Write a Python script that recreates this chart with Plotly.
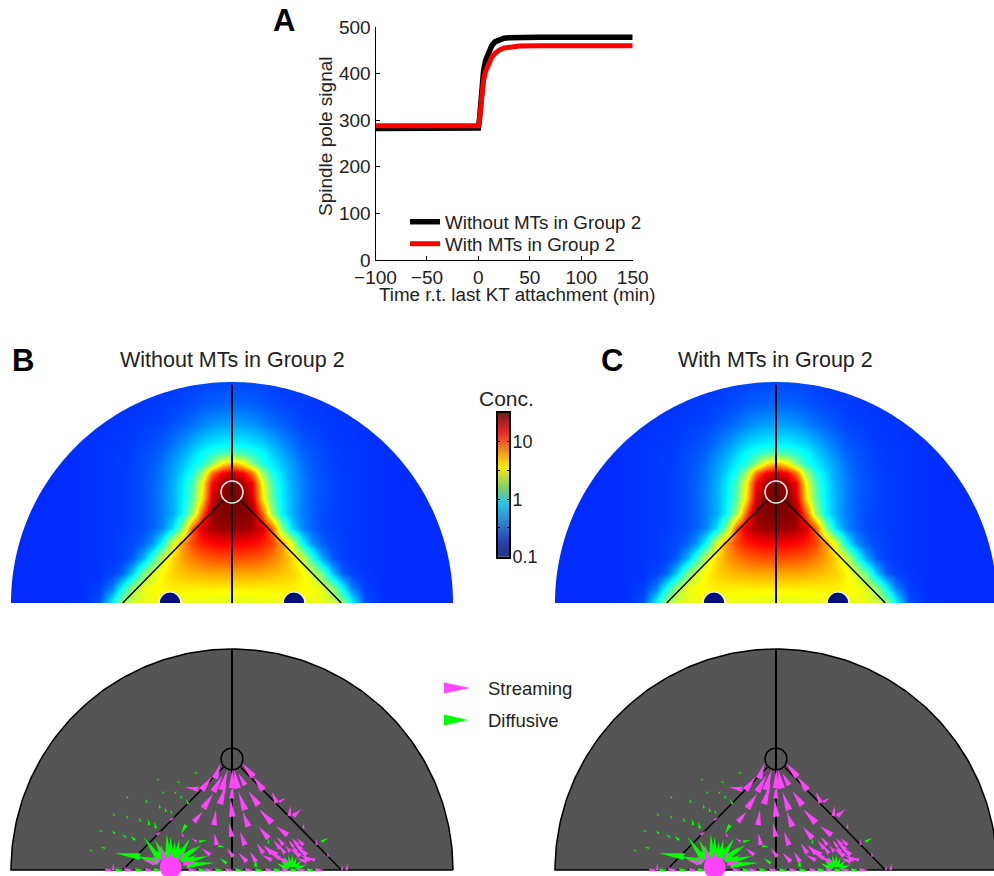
import numpy as np
import plotly.graph_objects as go

W, H = 994, 876
FONT = "Liberation Sans"
INK = "#222222"
MAGENTA = "#ff44ff"
GREEN = "#00ff00"

# Panel A
time_black = [-100, -1, 0, 1, 2, 3, 5, 7, 10, 13, 16, 20, 25, 30, 40, 60, 150]
signal_black = [282, 282, 283, 300, 335, 365, 405, 428, 447, 460, 468, 473, 476, 477, 478, 478, 478]
time_red = [-100, -1, 0, 1, 2, 3, 5, 7, 10, 13, 16, 20, 25, 30, 40, 60, 150]
signal_red = [288, 288, 288, 300, 325, 352, 385, 405, 423, 435, 443, 450, 455, 457, 459, 460, 460]
series_names = ["Without MTs in Group 2", "With MTs in Group 2"]
x_ticks = [-100, -50, 0, 50, 100, 150]
y_ticks = [0, 100, 200, 300, 400, 500]

# Panels B, C: log10 concentration, right half of the section (mirrored)
grid_x = [0, 30, 60, 90, 120, 150, 180, 210, 240, 270, 300, 330, 360, 400, 450, 500, 550, 600, 670]
grid_y = [0, 45, 90, 135, 180, 225, 270, 315, 360, 390, 420, 450, 480, 540, 600, 670]
log_conc = [
    [.48, .48, .5, .5, .5, .5, .5, .52, .52, .5, .45, .32, -.05, -.5, -.57, -.58, -.58, -.58, -.58],
    [.6, .6, .6, .6, .6, .6, .6, .58, .55, .5, .3, -.05, -.38, -.54, -.57, -.58, -.58, -.58, -.58],
    [.78, .78, .78, .76, .74, .71, .67, .58, .45, .18, -.2, -.45, -.53, -.56, -.57, -.58, -.58, -.58, -.58],
    [1.0, 1.0, .98, .95, .88, .79, .65, .45, .05, -.28, -.47, -.53, -.55, -.56, -.57, -.58, -.58, -.58, -.58],
    [1.2, 1.2, 1.18, 1.12, 1.02, .8, .45, -.05, -.33, -.46, -.51, -.53, -.55, -.56, -.57, -.58, -.58, -.58, -.58],
    [1.45, 1.44, 1.4, 1.28, .95, .25, -.15, -.35, -.45, -.5, -.52, -.54, -.55, -.56, -.57, -.58, -.58, -.58, -.58],
    [1.5, 1.5, 1.45, .95, .3, -.08, -.27, -.38, -.45, -.5, -.52, -.54, -.55, -.56, -.57, -.58, -.58, -.58, -.58],
    [1.5, 1.5, 1.3, .62, .15, -.1, -.26, -.37, -.45, -.49, -.52, -.54, -.55, -.56, -.57, -.58, -.58, -.58, -.58],
    [1.5, 1.42, 1.2, .55, .1, -.12, -.27, -.38, -.45, -.49, -.52, -.54, -.55, -.56, -.57, -.58, -.58, -.58, -.58],
    [1.3, 1.2, .92, .32, 0, -.16, -.29, -.39, -.46, -.5, -.52, -.54, -.55, -.56, -.57, -.58, -.58, -.58, -.58],
    [.72, .58, .25, 0, -.1, -.22, -.32, -.41, -.47, -.5, -.53, -.54, -.55, -.56, -.57, -.58, -.58, -.58, -.58],
    [.15, .1, .02, -.06, -.17, -.28, -.36, -.44, -.48, -.51, -.53, -.55, -.55, -.56, -.57, -.58, -.58, -.58, -.58],
    [-.1, -.1, -.13, -.18, -.26, -.34, -.41, -.47, -.5, -.52, -.54, -.55, -.56, -.56, -.57, -.58, -.58, -.58, -.58],
    [-.3, -.31, -.33, -.37, -.42, -.46, -.49, -.52, -.53, -.54, -.55, -.56, -.56, -.57, -.57, -.58, -.58, -.58, -.58],
    [-.44, -.45, -.46, -.48, -.5, -.52, -.53, -.54, -.55, -.56, -.56, -.57, -.57, -.57, -.57, -.58, -.58, -.58, -.58],
    [-.52, -.52, -.52, -.53, -.54, -.54, -.55, -.55, -.56, -.56, -.57, -.57, -.57, -.57, -.58, -.58, -.58, -.58, -.58],
]
colorbar_levels = [-1, -.75, -.5, -.25, 0, .25, .5, .75, 1, 1.25, 1.5]
colorbar_ticks = [-1, -.5, 0, .5, 1]
colorbar_labels = ["0.1", "", "1", "", "10"]

# Section geometry (model units)
section_radius = 663
pole_height = 333
pole_radius = 33
kinetochore_x = [-186, 186]
kinetochore_radius = 33
edge_foot_x = [-328, 328]

# Flux wedges: base_x, base_y, tip_x, tip_y
stream_base_x = [-51, -91, -56, -31, 0, 17, 39, 79, 64, 94, -86, -36, -1, 39, -114, -54, 1, 49, 119, 134, 142, 172, 184, -101, -186, -226, -1, -46, 39, 109, 166, -106, -146, 4, 44, 71, 94, -66, 214, 254, 289,
                 144, 184, 209, 224, 234, 249, 134, 119, 144, 159, 174, 194, 204, 154, 199, 214, 119, 164, 224,
                 -216, -184, -206, -156, -231, -146,
                 -380, -320, -260, -130, -80, -20, 40, 100, 150, 200, 250, -356, -321, 344, 329]
stream_base_y = [275, 240, 235, 240, 245, 245, 255, 195, 280, 240, 185, 198, 215, 180, 145, 135, 160, 130, 142, 202, 205, 162, 162, 242, 150, 105, 100, 75, 75, 95, 105, 85, 100, 40, 25, 25, 50, 45, 125, 75, 40,
                 65, 70, 60, 45, 30, 30, 45, 30, 35, 50, 55, 55, 42, 75, 75, 75, 50, 25, 25,
                 25, 35, 35, 35, 20, 20,
                 0, 0, 0, 0, 0, 0, 0, 0, 0, 0, 0, 0, 0, 0, 0]
stream_tip_x = [-34, -61, -28, -13, 1, 6, 19, 49, 31, 64, -56, -16, 1, 19, -88, -48, -4, 32, 82, 119, 161, 176, 209, -141, -171, -211, -9, -53, 24, 81, 132, -121, -151, -16, 19, 54, 74, -91, 216, 252, 286,
                124, 169, 184, 194, 204, 224, 99, 89, 114, 139, 159, 179, 174, 134, 179, 194, 94, 134, 194,
                -241, -184, -213, -144, -266, -106,
                -352, -292, -232, -102, -52, 8, 68, 128, 178, 228, 278, -356, -321, 347, 331]
stream_tip_y = [320, 280, 285, 302, 302, 302, 290, 238, 320, 280, 230, 260, 255, 235, 175, 180, 210, 175, 182, 235, 215, 192, 183, 248, 158, 117, 142, 110, 115, 130, 132, 95, 112, 65, 52, 55, 80, 65, 140, 92, 55,
                90, 90, 85, 70, 45, 35, 70, 45, 50, 75, 75, 75, 65, 100, 95, 95, 75, 40, 35,
                40, 58, 75, 58, 30, 22,
                0, 0, 0, 0, 0, 0, 0, 0, 0, 0, 0, 20, 14, 20, 14]
diff_base_x = [-191, -176, -161, -151, -141, -136, -216, -206, -198, -171, -276, -221, -16, -204, -184, -168, -156, -146,
               -256, -216, -198, -181, -274, -248, -228, -291, -318, -351, -391, -313, -353, -313, -206, -171, -151, -131, -158, -221, -106, -421, -381, -138, -98, -41, 71, 109, 164, 269,
               169, 172, 176, 180, 184, 189, 194, 166,
               -350, -290, -235, -100, -50, 10, 70, 125, 175, 225]
diff_base_y = [35, 35, 35, 35, 25, 15, 30, 35, 35, 35, 40, 25, 20, 35, 35, 35, 30, 25,
               202, 185, 175, 170, 145, 135, 125, 90, 98, 110, 115, 155, 163, 215, 230, 230, 215, 198, 262, 270, 290, 58, 65, 135, 85, 72, 10, 80, 102, 85,
               5, 8, 10, 10, 10, 8, 5, 3,
               0, 0, 0, 0, 0, 0, 0, 0, 0, 0]
diff_tip_x = [-196, -171, -126, -91, -71, -51, -266, -241, -221, -151, -351, -291, -36, -231, -184, -158, -111, -106,
              -258, -218, -201, -184, -278, -252, -234, -306, -331, -361, -398, -316, -358, -315, -208, -166, -156, -138, -164, -226, -114, -428, -394, -153, -76, -21, 71, 109, 164, 289,
              144, 156, 169, 181, 194, 209, 224, 134,
              -322, -262, -207, -72, -22, 38, 98, 153, 203, 253]
diff_tip_y = [108, 85, 95, 75, 42, 22, 100, 65, 75, 70, 50, 42, 35, 90, 100, 90, 70, 45,
              213, 198, 188, 180, 158, 153, 145, 102, 107, 117, 120, 165, 170, 223, 238, 238, 225, 213, 267, 274, 293, 60, 70, 108, 90, 68, 35, 95, 115, 95,
              35, 40, 45, 45, 40, 30, 15, 20,
              0, 0, 0, 0, 0, 0, 0, 0, 0, 0]
blob_x = [-184]
blob_y = [8]

JET = [[0, "#00007f"], [.125, "#0000ff"], [.375, "#00ffff"], [.625, "#ffff00"], [.875, "#ff0000"], [1, "#800000"]]
JET_SOFT = [[0, "#23307f"], [.125, "#2c49b8"], [.375, "#2cc5e8"], [.5, "#8fcf5a"], [.625, "#fbec10"], [.875, "#e3242b"], [1, "#7a1a1a"]]


def dx(a, b):
    return [a / W, b / W]


def dy(top, bottom):
    return [1 - bottom / H, 1 - top / H]


fig = go.Figure()


def add_heat(xa, ya):
    xs = [-v for v in grid_x[:0:-1]] + grid_x
    zs = [row[:0:-1] + row for row in log_conc]
    fig.add_trace(go.Heatmap(x=xs, y=grid_y, z=zs, zmin=-1, zmax=1.5, zsmooth="best", colorscale=JET,
                             showscale=False, hoverinfo="skip", xaxis=xa, yaxis=ya))


def add_skeleton(xa, ya, top):
    fig.add_trace(go.Scatter(x=[0, 0], y=[0, top], mode="lines", line=dict(color="black", width=2),
                             hoverinfo="skip", showlegend=False, xaxis=xa, yaxis=ya))
    for fx, sign in zip(edge_foot_x, [-1, 1]):
        fig.add_trace(go.Scatter(x=[fx, sign * 26], y=[0, pole_height - 25], mode="lines", line=dict(color="black", width=1.5),
                                 hoverinfo="skip", showlegend=False, xaxis=xa, yaxis=ya))


def wedges(bx, by, tx, ty, ratio=.4, min_w=6, max_w=20):
    px, py = [], []
    for a, b, c, d in zip(bx, by, tx, ty):
        vx, vy = c - a, d - b
        L = max(np.hypot(vx, vy), 1)
        w = min(max(L * ratio, min_w), max_w) / 2
        nx, ny = -vy / L * w, vx / L * w
        px += [a + nx, a - nx, c, a + nx, None]
        py += [b + ny, b - ny, d, b + ny, None]
    return px, py


def add_flux(xa, ya):
    t = np.linspace(0, np.pi, 181)
    cx = section_radius * np.cos(t)
    cy = section_radius * np.sin(t)
    fig.add_trace(go.Scatter(x=list(cx) + [cx[0]], y=list(cy) + [cy[0]], mode="lines", fill="toself", fillcolor="#555555",
                             line=dict(color="black", width=1.5), hoverinfo="skip", showlegend=False, xaxis=xa, yaxis=ya))
    add_skeleton(xa, ya, section_radius)
    pt = np.linspace(0, 2 * np.pi, 61)
    fig.add_trace(go.Scatter(x=pole_radius * np.cos(pt), y=pole_height + pole_radius * np.sin(pt), mode="lines",
                             line=dict(color="black", width=1.5), hoverinfo="skip", showlegend=False, xaxis=xa, yaxis=ya))
    gx, gy = wedges(diff_base_x, diff_base_y, diff_tip_x, diff_tip_y)
    fig.add_trace(go.Scatter(x=gx, y=gy, mode="lines", fill="toself", fillcolor=GREEN, line=dict(width=0, color=GREEN),
                             hoverinfo="skip", showlegend=False, xaxis=xa, yaxis=ya))
    mx, my = wedges(stream_base_x, stream_base_y, stream_tip_x, stream_tip_y)
    fig.add_trace(go.Scatter(x=mx, y=my, mode="lines", fill="toself", fillcolor=MAGENTA, line=dict(width=0, color=MAGENTA),
                             hoverinfo="skip", showlegend=False, xaxis=xa, yaxis=ya))
    fig.add_trace(go.Scatter(x=blob_x, y=blob_y, mode="markers", marker=dict(color=MAGENTA, size=22, line=dict(width=0)),
                             hoverinfo="skip", showlegend=False, xaxis=xa, yaxis=ya, cliponaxis=True))


# Panel A
fig.add_trace(go.Scatter(x=time_black, y=signal_black, mode="lines", name=series_names[0], line=dict(color="black", width=5.5),
                         xaxis="x", yaxis="y", hoverinfo="skip", legend="legend"))
fig.add_trace(go.Scatter(x=time_red, y=signal_red, mode="lines", name=series_names[1], line=dict(color="#ff0000", width=5),
                         xaxis="x", yaxis="y", hoverinfo="skip", legend="legend2"))
# Panels
add_heat("x2", "y2")
add_skeleton("x2", "y2", 655)
add_heat("x3", "y3")
add_skeleton("x3", "y3", 655)
add_flux("x4", "y4")
add_flux("x5", "y5")
fig.add_trace(go.Heatmap(x=[0, 1], y=colorbar_levels, z=[[v, v] for v in colorbar_levels], zmin=-1, zmax=1.5, zsmooth="best",
                         colorscale=JET_SOFT, showscale=False, hoverinfo="skip", xaxis="x6", yaxis="y6"))

hidden = dict(visible=False, fixedrange=True, showgrid=False, zeroline=False)
tick_font = dict(family=FONT, size=19, color=INK)
legend_common = dict(x=405 / W, xanchor="left", yanchor="middle", bgcolor="rgba(0,0,0,0)",
                     font=dict(family=FONT, size=18.8, color=INK), itemwidth=30)
# one panel unit is a third of a pixel
layout = dict(
    width=W, height=H, margin=dict(l=0, r=0, t=0, b=0, autoexpand=False), paper_bgcolor="white", plot_bgcolor="white",
    font=dict(family=FONT, color=INK),
    legend=dict(y=1 - 222 / H, **legend_common),
    legend2=dict(y=1 - 244 / H, **legend_common),
    xaxis=dict(domain=dx(375.5, 632.7), range=[-100, 150], tickvals=x_ticks, ticks="inside", ticklen=4, showline=True,
               linecolor="black", linewidth=1, tickcolor="black", showgrid=False, zeroline=False, tickfont=tick_font, fixedrange=True,
               anchor="y"),
    yaxis=dict(domain=dy(27, 260), range=[0, 500], tickvals=y_ticks, ticks="inside", ticklen=4, showline=True, linecolor="black",
               linewidth=1, tickcolor="black", showgrid=False, zeroline=False, tickfont=tick_font, fixedrange=True, anchor="x"),
    xaxis2=dict(domain=dx(232 - 230, 232 + 230), range=[-690, 690], anchor="y2", **hidden),
    yaxis2=dict(domain=dy(373, 603), range=[0, 690], anchor="x2", **hidden),
    xaxis3=dict(domain=dx(776 - 230, 994), range=[-690, 654], anchor="y3", **hidden),
    yaxis3=dict(domain=dy(373, 603), range=[0, 690], anchor="x3", **hidden),
    xaxis4=dict(domain=dx(232 - 230, 232 + 230), range=[-690, 690], anchor="y4", **hidden),
    yaxis4=dict(domain=dy(640, 876), range=[-18, 690], anchor="x4", **hidden),
    xaxis5=dict(domain=dx(776 - 230, 994), range=[-690, 654], anchor="y5", **hidden),
    yaxis5=dict(domain=dy(640, 876), range=[-18, 690], anchor="x5", **hidden),
    xaxis6=dict(domain=dx(498, 509), range=[0, 1], anchor="y6", showticklabels=False, ticks="", showline=True, mirror=True,
                linecolor="black", linewidth=2, showgrid=False, zeroline=False, fixedrange=True),
    yaxis6=dict(domain=dy(413, 556.7), range=[-1, 1.5], anchor="x6", side="right", tickvals=colorbar_ticks, ticktext=colorbar_labels,
                ticks="inside", ticklen=2, tickcolor="black", mirror="ticks", showline=True, linecolor="black", linewidth=2,
                showgrid=False, zeroline=False, tickfont=dict(family=FONT, size=18, color=INK), fixedrange=True, ticklabelstandoff=-2),
)
fig.update_layout(**layout)

# masks and rings
arc = np.linspace(np.pi, 0, 181)
shapes = []
for xr, yr in [("x2", "y2"), ("x3", "y3")]:
    path = "M -800,0 L " + " L ".join(f"{section_radius * np.cos(a):.1f},{section_radius * np.sin(a):.1f}" for a in arc)
    path += " L 800,0 L 800,800 L -800,800 Z"
    shapes.append(dict(type="path", path=path, xref=xr, yref=yr, fillcolor="white", line=dict(width=0), layer="above"))
    shapes.append(dict(type="circle", xref=xr, yref=yr, x0=-pole_radius, x1=pole_radius, y0=pole_height - pole_radius,
                       y1=pole_height + pole_radius, line=dict(color="#eeeeee", width=1.5), layer="above"))
    for kx in kinetochore_x:
        shapes.append(dict(type="circle", xref=xr, yref=yr, x0=kx - kinetochore_radius, x1=kx + kinetochore_radius,
                           y0=-kinetochore_radius, y1=kinetochore_radius, fillcolor="#00107f",
                           line=dict(color="white", width=1.2), layer="above"))
# flux legend wedges
for x0, x1, yc, col in [(444, 470, 688, MAGENTA), (444, 468, 720, GREEN)]:
    shapes.append(dict(type="path", xref="paper", yref="paper", fillcolor=col, line=dict(width=0), layer="above",
                       path=f"M {x0 / W},{1 - (yc - 5.5) / H} L {x0 / W},{1 - (yc + 5.5) / H} L {x1 / W},{1 - yc / H} Z"))
fig.update_layout(shapes=shapes)


def note(text, x, y, size=18, bold=False, anchor="center", angle=0, color=INK):
    fig.add_annotation(text=f"<b>{text}</b>" if bold else text, xref="paper", yref="paper", x=x / W, y=1 - y / H, showarrow=False,
                       xanchor=anchor, yanchor="middle", textangle=angle, font=dict(family=FONT, size=size, color=color))


note("A", 284, 21, 31, True, color="black")
note("B", 23, 360, 31, True, color="black")
note("C", 612, 360, 31, True, color="black")
note("Spindle pole signal", 325, 136, 19, angle=-90)
note("Time r.t. last KT attachment (min)", 517, 294, 18.8)
note("Without MTs in Group 2", 232, 360, 21.5)
note("With MTs in Group 2", 775, 360, 21.5)
note("Conc.", 506.5, 398, 21)
note("Streaming", 486, 688.5, 18.5, anchor="left")
note("Diffusive", 486, 720.5, 18.5, anchor="left")

fig.write_html("out.html", config=dict(displayModeBar=False),
               post_script="document.body.style.margin='0';document.body.style.overflow='hidden';")
